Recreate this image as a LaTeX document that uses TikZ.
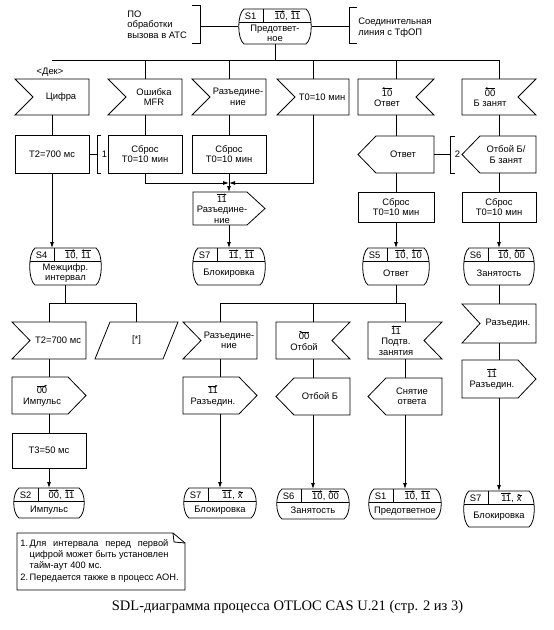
\documentclass[tikz,border=0pt]{standalone}
\usepackage{fontspec}
\setmainfont{Liberation Serif}
\setsansfont{Liberation Sans}
\usetikzlibrary{arrows.meta,calc}
\newlength\notelen
\tikzset{
  shp/.style={draw=none,inner sep=0pt,outer sep=0pt},
  txt/.style={font=\sffamily\fontsize{9.4}{10.4}\selectfont,align=center,inner sep=0pt},
  arr/.style={-{Latex[length=6pt,width=4pt]}},
  ovarr/.style={-{Latex[length=2.6pt,width=2.2pt]},line width=0.45pt},
}
\newcommand\sigR[1]{\tikz[baseline=(dg.base)]{\node[inner sep=0pt,outer sep=0pt,draw=none] (dg) {#1};
  \draw[ovarr] ([yshift=1.6pt]dg.north west) -- ([yshift=1.6pt]dg.north east);}}
\newcommand\sigL[1]{\tikz[baseline=(dg.base)]{\node[inner sep=0pt,outer sep=0pt,draw=none] (dg) {#1};
  \draw[ovarr] ([yshift=1.6pt]dg.north east) -- ([yshift=1.6pt]dg.north west);}}
% name, x1, y1, x2, y2
\newcommand\mkbox[5]{%
  \pgfmathsetmacro\shpw{#4-#2}\pgfmathsetmacro\shph{#5-#3}%
  \node[shp,minimum width=\shpw pt,minimum height=\shph pt] (#1) at ({(#2+#4)/2},{(#3+#5)/2}) {};}
\newcommand\inpL[6]{\mkbox{#1}{#2}{#3}{#4}{#5}%
  \draw (#1.north west) -- (#1.north east) -- (#1.south east) -- (#1.south west) -- ([xshift=18pt]#1.west) -- cycle;
  \node[txt] at ([xshift=9pt]#1.center) {#6};}
\newcommand\inpR[6]{\mkbox{#1}{#2}{#3}{#4}{#5}%
  \draw (#1.north west) -- (#1.north east) -- ([xshift=-18pt]#1.east) -- (#1.south east) -- (#1.south west) -- cycle;
  \node[txt] at ([xshift=-9pt]#1.center) {#6};}
\newcommand\outR[6]{\mkbox{#1}{#2}{#3}{#4}{#5}%
  \draw (#1.north west) -- ([xshift=-18pt]#1.north east) -- (#1.east) -- ([xshift=-18pt]#1.south east) -- (#1.south west) -- cycle;
  \node[txt] at ([xshift=-7pt]#1.center) {#6};}
\newcommand\outL[6]{\mkbox{#1}{#2}{#3}{#4}{#5}%
  \draw ([xshift=18pt]#1.north west) -- (#1.north east) -- (#1.south east) -- ([xshift=18pt]#1.south west) -- (#1.west) -- cycle;
  \node[txt] at ([xshift=7pt]#1.center) {#6};}
\newcommand\task[6]{\mkbox{#1}{#2}{#3}{#4}{#5}%
  \draw (#1.north west) rectangle (#1.south east);
  \node[txt] at (#1.center) {#6};}
\newcommand\para[6]{\mkbox{#1}{#2}{#3}{#4}{#5}%
  \draw ([xshift=15pt]#1.north west) -- (#1.north east) -- ([xshift=-15pt]#1.south east) -- (#1.south west) -- cycle;
  \node[txt] at (#1.center) {#6};}
% name, x1, y1, x2, y2, S, signals, name text
\newcommand\state[8]{\mkbox{#1}{#2}{#3}{#4}{#5}%
  \draw ([xshift=6pt]#1.north west) -- ([xshift=-6pt]#1.north east)
    .. controls ([xshift=1pt,yshift=-5pt]#1.north east) and ([xshift=1pt,yshift=5pt]#1.south east) .. ([xshift=-6pt]#1.south east)
    -- ([xshift=6pt]#1.south west)
    .. controls ([xshift=-1pt,yshift=5pt]#1.south west) and ([xshift=-1pt,yshift=-5pt]#1.north west) .. ([xshift=6pt]#1.north west) -- cycle;
  \draw ([xshift=1pt,yshift=-13.5pt]#1.north west) -- ([xshift=-1pt,yshift=-13.5pt]#1.north east);
  \draw ([xshift=25pt]#1.north west) -- ([xshift=25pt,yshift=-13.5pt]#1.north west);
  \node[txt] at ([xshift=12.5pt,yshift=-7pt]#1.north west) {#6};
  \node[txt,anchor=base] at ([xshift={(\shpw+25)/2},yshift=-10.6pt]#1.north west) {#7};
  \node[txt] at ([yshift={-(13.5+(\shph-13.5)/2)}]#1.north) {#8};}
\begin{document}
\begin{tikzpicture}[x=1pt,y=-1pt,line width=0.8pt]
\useasboundingbox (0,0) rectangle (554,630);
% ---- top state and comments
\state{sA}{238}{9}{312}{44}{S1}{\sigR{10}, \sigL{11}}{Предответ-\\ное}
\node[txt,align=left,anchor=west] (poA) at (127,24.5) {ПО\\обработки\\вызова в АТС};
\draw (192,5) -- (200,5) -- (200,43) -- (192,43);
\coordinate (brA) at (200,26.5);
\draw (brA) -- (sA.west);
\node[txt,align=left,anchor=west] (liA) at (358,27.5) {Соединительная\\линия с ТфОП};
\draw (357,7) -- (349,7) -- (349,43) -- (357,43);
\coordinate (brB) at (349,26.5);
\draw (sA.east) -- (brB);
% ---- top bus
\coordinate (busL) at (52,60);
\coordinate (busR) at (499,60);
\draw (busL) -- (busR);
\draw (sA.south) -- (sA.south |- busL);
\node[txt] (dek) at (50,72) {<Дек>};
% ---- row 1 inputs
\inpL{cif}{15}{79}{89}{115}{Цифра}
\inpL{mfr}{108}{79}{182}{115}{Ошибка\\MFR}
\inpL{razA}{192}{79}{266}{115}{Разъедине-\\ние}
\inpL{tzero}{277}{79}{349}{115}{T0=10 мин}
\inpR{otv}{358}{79}{434}{115}{\sigL{10}\\Ответ}
\inpR{bzan}{462}{79}{536}{115}{\sigL{00}\\Б занят}
\foreach \n in {mfr,razA,tzero,otv,bzan} \draw (\n.north) -- (\n.north |- busL);
% ---- row 2
\task{tA}{15}{135}{89}{173}{T2=700 мс}
\task{sbA}{108}{135}{182}{173}{Сброс\\T0=10 мин}
\task{sbB}{192}{135}{266}{173}{Сброс\\T0=10 мин}
\outL{otvO}{358}{136}{434}{173}{Ответ}
\outL{otbBz}{462}{136}{536}{173}{Отбой Б/\\Б занят}
\draw (101,135) -- (97,135) -- (97,173) -- (101,173);
\coordinate (cmA) at (97,154);
\draw (tA.east) -- (cmA);
\node[txt] (cmAt) at (104.5,154) {1};
\draw (455,136) -- (450,136) -- (450,173) -- (455,173);
\coordinate (cmB) at (450,154.5);
\draw (otvO.east) -- (cmB);
\node[txt] (cmBt) at (457.5,154.5) {2};
\draw (cif.south) -- (tA.north);
\draw (mfr.south) -- (sbA.north);
\draw (razA.south) -- (sbB.north);
\draw (otv.south) -- (otvO.north);
\draw (bzan.south) -- (otbBz.north);
% ---- merge
\coordinate (mrg) at (229,183);
\draw[arr] (sbA.south) |- (mrg);
\draw[arr] (tzero.south) |- (mrg);
\draw (sbB.south) -- (mrg);
% ---- row 2b
\outR{razO}{193}{192}{265}{225}{\fontsize{9.2}{9.8}\selectfont\sigR{11}\\Разъедине-\\ние}
\task{sbC}{358}{192}{434}{222}{Сброс\\T0=10 мин}
\task{sbD}{462}{192}{536}{222}{Сброс\\T0=10 мин}
\draw[arr] (mrg) -- (razO.north);
\draw (otvO.south) -- (sbC.north);
\draw (otbBz.south) -- (sbD.north);
% ---- states row
\state{sFour}{29}{248}{102}{285}{S4}{\sigR{10}, \sigL{11}}{Межцифр.\\интервал}
\state{sSevA}{192}{248}{266}{285}{S7}{\sigR{11}, \sigL{11}}{Блокировка}
\state{sFive}{362}{248}{430}{285}{S5}{\sigR{10}, \sigL{10}}{Ответ}
\state{sSixA}{463}{248}{535}{285}{S6}{\sigR{10}, \sigL{00}}{Занятость}
\draw[arr] (tA.south) -- (tA.south |- sFour.north);
\draw[arr] (razO.south) -- (sSevA.north);
\draw[arr] (sbC.south) -- (sFive.north);
\draw[arr] (sbD.south) -- (sSixA.north);
% ---- group below S4
\coordinate (bB) at (65.5,303);
\inpL{tB}{12}{322}{86}{359}{T2=700 мс}
\para{star}{95}{322}{178}{359}{[*]}
\draw (sFour.south) -- (bB);
\draw (tB.north) |- (star.north |- bB) -- (star.north);
\outR{imp}{12}{377}{86}{414}{\sigR{00}\\Импульс}
\task{tC}{12}{433}{86}{468}{T3=50 мс}
\state{sTwo}{13}{488}{85}{518}{S2}{\sigR{00}, \sigL{11}}{Импульс}
\draw (tB.south) -- (imp.north);
\draw (imp.south) -- (tC.north);
\draw[arr] (tC.south) -- (sTwo.north);
% ---- group below S5
\coordinate (bC) at (396,303);
\inpL{razB}{183}{322}{257}{359}{Разъедине-\\ние}
\inpR{otb}{276}{322}{350}{359}{\sigL{00}\\Отбой}
\inpR{podt}{368}{322}{442}{359}{\fontsize{9.2}{9.6}\selectfont\sigL{11}\\Подтв.\\занятия}
\draw (sFive.south) -- (bC);
\draw (razB.north) |- (podt.north |- bC) -- (podt.north);
\draw (otb.north) -- (otb.north |- bC);
\outR{razBO}{183}{377}{257}{414}{\sigR{11}\\Разъедин.}
\outL{otbO}{276}{378}{350}{415}{Отбой Б}
\outL{snya}{368}{378}{442}{415}{Снятие\\ответа}
\draw (razB.south) -- (razBO.north);
\draw (otb.south) -- (otbO.north);
\draw (podt.south) -- (snya.north);
\state{sSevB}{183}{488}{257}{518}{S7}{\sigR{11}, \sigL{x}}{Блокировка}
\state{sSixB}{276}{489}{350}{519}{S6}{\sigR{10}, \sigL{00}}{Занятость}
\state{sOneB}{368}{489}{442}{519}{S1}{\sigR{10}, \sigL{11}}{Предответное}
\draw[arr] (razBO.south) -- (sSevB.north);
\draw[arr] (otbO.south) -- (sSixB.north);
\draw[arr] (snya.south) -- (sOneB.north);
% ---- column 6 lower
\inpL{razC}{462}{304}{536}{343}{Разъедин.}
\outR{razCO}{462}{360}{536}{398}{\sigR{11}\\Разъедин.}
\state{sSevC}{463}{491}{535}{527}{S7}{\sigR{11}, \sigL{x}}{Блокировка}
\draw (sSixA.south) -- (razC.north);
\draw (razC.south) -- (razCO.north);
\draw[arr] (razCO.south) -- (sSevC.north);
% ---- note
\mkbox{note}{17}{533}{185}{590}
\draw (note.north west) -- ([xshift=-12pt]note.north east) -- ([yshift=-10pt]note.north east) -- (note.south east) -- (note.south west) -- cycle;
\draw ([xshift=-12pt]note.north east) -- ([xshift=-11pt,yshift=-9pt]note.north east) -- ([yshift=-10pt]note.north east);
\node[txt,anchor=north west,align=left,font=\sffamily\fontsize{9.3}{11.3}\selectfont] (notet) at (20,538)
 {\settowidth{\notelen}{цифрой может быть установлен}%
  \begin{tabular}{@{}l@{\,}l@{}}1. & \makebox[\notelen][s]{Для интервала перед первой}\\
   & цифрой может быть установлен\\
   & тайм-аут 400 мс.\\
  2. & Передается также в процесс АОН.\end{tabular}};
% ---- caption
\node[font=\fontsize{14.5}{17}\selectfont,inner sep=0pt] (cap) at (287.5,607) {SDL-диаграмма процесса OTLOC CAS U.21 (стр. 2 из 3)};
\end{tikzpicture}
\end{document}
